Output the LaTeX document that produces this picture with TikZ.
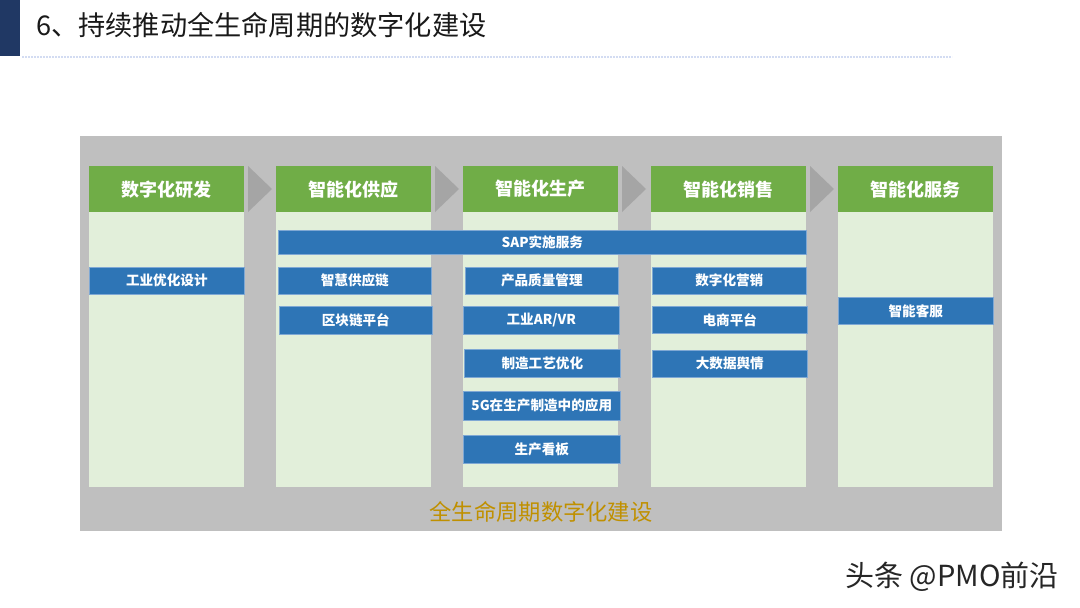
\documentclass[tikz,border=0pt]{standalone}
\usepackage{fontspec}
\newfontfamily\cjk{Noto Sans CJK SC}
\definecolor{navy}{HTML}{203864}
\definecolor{hgreen}{HTML}{70AD47}
\definecolor{lgreen}{HTML}{E2EFDA}
\definecolor{outgray}{HTML}{BFBFBF}
\definecolor{arrgray}{HTML}{A5A5A5}
\definecolor{bblue}{HTML}{2E75B6}
\definecolor{bedge}{HTML}{7FA8D4}
\definecolor{gold}{HTML}{BF9000}
\definecolor{dotc}{HTML}{D3DCF2}
\begin{document}
\begin{tikzpicture}[x=1pt,y=-1pt,
  hdr/.style={fill=hgreen, text=white, font=\cjk\bfseries\fontsize{18}{18}\selectfont,
    inner sep=0pt, minimum width=155pt, minimum height=46pt, anchor=north west},
  body/.style={fill=lgreen, draw=none, inner sep=0pt, minimum width=155pt, minimum height=275pt, anchor=north west},
  bb/.style={fill=bblue, draw=bedge, line width=0.6pt, text=white, font=\cjk\bfseries\fontsize{13.6}{13.6}\selectfont,
    inner sep=0pt, minimum width=155pt, minimum height=27pt, anchor=north west},
  chev/.style={fill=arrgray, draw=none}
]
\useasboundingbox (0,0) rectangle (1080,608);
\fill[white] (0,0) rectangle (1080,608);
% title
\fill[navy] (0,0) rectangle (20,56);
\node[anchor=west, inner sep=0pt, font=\cjk\fontsize{27.2}{27.2}\selectfont, text=black!90] (title) at (36,25) {6、持续推动全生命周期的数字化建设};
\draw[dotc, line width=1.6pt, dash pattern=on 1.6pt off 1.4pt] (22,57) -- (952,57);
% outer gray
\fill[outgray] (80,136) rectangle (1002,531);
% columns
\foreach \i/\x in {1/89,2/276,3/463,4/651,5/838}{
  \node[body] (body\i) at (\x,212) {};
}
\node[hdr] (h1) at (89,166) {数字化研发};
\node[hdr] (h2) at (276,166) {智能化供应};
\node[hdr] (h3) at (463,166) {智能化生产};
\node[hdr] (h4) at (651,166) {智能化销售};
\node[hdr] (h5) at (838,166) {智能化服务};
% chevrons
\foreach \x in {248,435,622,810}{
  \fill[chev] (\x,166) -- (\x+24,189) -- (\x,212) -- cycle;
}
% blue boxes
\node[bb, minimum width=528pt, minimum height=24pt] (sap) at (278,230) {SAP实施服务};
\node[bb] (b11) at (89,267) {工业优化设计};
\node[bb, minimum width=153pt] (b21) at (278,267) {智慧供应链};
\node[bb, minimum width=153pt, minimum height=28pt] (b22) at (279,306) {区块链平台};
\node[bb, minimum width=153pt] (b31) at (465,267) {产品质量管理};
\node[bb, minimum width=156pt, minimum height=28pt] (b32) at (463,306) {工业AR/VR};
\node[bb, minimum width=156pt, minimum height=28pt] (b33) at (464,349) {制造工艺优化};
\node[bb, minimum width=157pt, minimum height=29pt] (b34) at (463,391) {5G在生产制造中的应用};
\node[bb, minimum width=157pt, minimum height=28pt] (b35) at (463,435) {生产看板};
\node[bb, minimum width=154pt] (b41) at (652,267) {数字化营销};
\node[bb, minimum width=155pt] (b42) at (652,306) {电商平台};
\node[bb, minimum width=155pt] (b43) at (652,350) {大数据舆情};
\node[bb, minimum width=155pt] (b51) at (838,297) {智能客服};
% bottom label
\node[inner sep=0pt, text=gold, font=\cjk\fontsize{22.3}{22.3}\selectfont] (foot) at (541,512) {全生命周期数字化建设};
% watermark
\node[anchor=west, inner sep=0pt, text=black!85, font=\cjk\fontsize{29}{29}\selectfont] (wm) at (845,577) {头条 @PMO前沿};
\end{tikzpicture}
\end{document}
